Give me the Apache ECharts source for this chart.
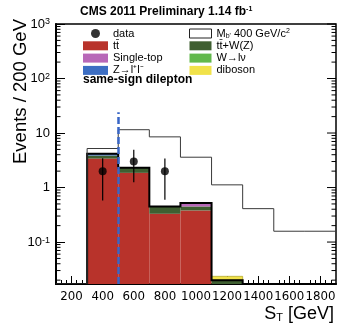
<!DOCTYPE html>
<html>
<head>
<meta charset="utf-8">
<script src="https://cdn.jsdelivr.net/npm/echarts@6/dist/echarts.min.js"></script>
<style>
html,body{margin:0;padding:0;background:#fff;}
#c{width:358px;height:330px;}
</style>
</head>
<body>
<div id="c"></div>
<script>
// ---- data ----
const binLow  = [100, 300, 500, 700, 900, 1100, 1300, 1500, 1700];
const binHigh = [300, 500, 700, 900, 1100, 1300, 1500, 1700, 1900];
const ttbar     = [0, 3.4, 1.86, 0.33, 0.38, 0, 0, 0, 0];
const ttV       = [0, 0.47, 0.44, 0.12, 0.07, 0.02, 0, 0, 0];
const wlnu      = [0, 0, 0, 0, 0, 0, 0, 0, 0];
const singleTop = [0, 0, 0, 0, 0.07, 0, 0, 0, 0];
const zll       = [0, 0.28, 0, 0, 0, 0, 0, 0, 0];
const diboson   = [0, 0, 0, 0, 0, 0.0035, 0, 0, 0];
const signal    = [0, 5.2, 11.5, 8.5, 3.6, 1.12, 0.41, 0.158, 0.158];
const dataX     = [400, 600, 800];
const dataY     = [2, 3, 2];
const dataLo    = [0.58, 1.25, 0.6];
const dataHi    = [3.45, 4.95, 3.4];
const cutX = 500, cutTop = 24;
const xTickLabels = [200, 400, 600, 800, 1000, 1200, 1400, 1600, 1800];
const yDecades = [0.1, 1, 10, 100, 1000];
const minorMult = [2, 3, 4, 5, 6, 7, 8, 9];
const xMin = 100, xMax = 1900, yMin = 0.017, yMax = 1000;

const FONT = '"Liberation Sans", Arial, Helvetica, sans-serif';

const comps = [
  {name: 'tt\u0304', vals: ttbar, color: '#b8332b'},
  {name: 'tt\u0304+W(Z)', vals: ttV, color: '#3f5f31'},
  {name: 'W\u2192l\u03bd', vals: wlnu, color: '#62b84c'},
  {name: 'Single-top', vals: singleTop, color: '#b868b8'},
  {name: 'Z\u2192l\u207al\u207b', vals: zll, color: '#3c6ec3'},
  {name: 'diboson', vals: diboson, color: '#f1e24a'}
];
const sigName = "Mb' 400 GeV/c\u00b2";

const series = [];
comps.forEach(function (c, ci) {
  const items = [];
  for (let i = 0; i < binLow.length; i++) {
    let base = 0;
    for (let j = 0; j < ci; j++) base += comps[j].vals[i];
    items.push([binLow[i], binHigh[i], base, base + c.vals[i]]);
  }
  series.push({
    type: 'custom', name: c.name, clip: true,
    itemStyle: {color: c.color},
    encode: {x: [0, 1], y: [3]},
    data: items,
    renderItem: function (params, api) {
      const x0 = api.value(0), x1 = api.value(1), b = api.value(2), t = api.value(3);
      if (!(t > b) || t <= yMin) return null;
      const p0 = api.coord([x0, Math.max(b, yMin)]);
      const p1 = api.coord([x1, t]);
      return {type: 'rect', shape: {x: p0[0], y: p1[1], width: p1[0] - p0[0], height: p0[1] - p1[1]},
        style: {fill: c.color, stroke: ci === comps.length - 1 ? '#b5a830' : null, lineWidth: 0.8}};
    }
  });
});

function stepPoints(api, vals) {
  const pts = [];
  let prev = yMin;
  for (let i = 0; i < binLow.length; i++) {
    const v = vals[i] > yMin ? vals[i] : yMin;
    pts.push(api.coord([binLow[i], prev]));
    pts.push(api.coord([binLow[i], v]));
    prev = v;
  }
  pts.push(api.coord([binHigh[binHigh.length - 1], prev]));
  return pts;
}

// outline of stack (without diboson)
const outlineVals = binLow.map(function (_, i) {
  let s = 0;
  for (let j = 0; j < comps.length - 1; j++) s += comps[j].vals[i];
  return s;
});
series.push({
  type: 'custom', name: 'outline', clip: true, silent: true,
  data: [[xMin, yMin]],
  renderItem: function (params, api) {
    const pts = stepPoints(api, outlineVals);
    return {type: 'polyline', shape: {points: pts}, style: {stroke: '#000', lineWidth: 2, fill: null}};
  }
});

// signal
series.push({
  type: 'custom', name: sigName, clip: true,
  itemStyle: {color: '#fff', borderColor: '#333'},
  data: [[xMin, yMin]],
  renderItem: function (params, api) {
    const pts = stepPoints(api, signal);
    return {type: 'polyline', shape: {points: pts}, style: {stroke: '#3a3a3a', lineWidth: 1, fill: null}};
  }
});

// y minor / right ticks
const minorVals = [];
for (let k = -2; k <= 2; k++) {
  minorMult.forEach(function (m) {
    const v = m * Math.pow(10, k);
    if (v >= yMin && v <= yMax) minorVals.push(v);
  });
}
series.push({
  type: 'custom', name: 'yticks', silent: true,
  data: minorVals.map(function (v) { return [xMin, v, 0]; }).concat(yDecades.map(function (v) { return [xMin, v, 1]; })),
  renderItem: function (params, api) {
    const v = api.value(1), major = api.value(2) === 1;
    const pl = api.coord([xMin, v]);
    const pr = api.coord([xMax, v]);
    const len = major ? 9 : 4.5;
    const children = [
      {type: 'line', shape: {x1: pr[0], y1: pr[1], x2: pr[0] - len, y2: pr[1]}, style: {stroke: '#000', lineWidth: 1}}
    ];
    if (!major) children.push({type: 'line', shape: {x1: pl[0], y1: pl[1], x2: pl[0] + len, y2: pl[1]}, style: {stroke: '#000', lineWidth: 1}});
    return {type: 'group', children: children};
  }
});

// error bars
series.push({
  type: 'custom', name: 'err', silent: true,
  data: dataX.map(function (x, i) { return [x, dataLo[i], dataHi[i]]; }),
  renderItem: function (params, api) {
    const a = api.coord([api.value(0), api.value(1)]);
    const b = api.coord([api.value(0), api.value(2)]);
    return {type: 'line', shape: {x1: a[0], y1: a[1], x2: b[0], y2: b[1]}, style: {stroke: '#000', lineWidth: 1.2}};
  }
});

// data points + cut line
series.push({
  type: 'scatter', name: 'data', symbol: 'circle', symbolSize: 8,
  itemStyle: {color: '#000'},
  data: dataX.map(function (x, i) { return [x, dataY[i]]; }),
  markLine: {
    silent: true, symbol: 'none', label: {show: false},
    lineStyle: {color: '#3866c6', width: 2.5, type: [7, 3]},
    data: [[{coord: [cutX, yMin]}, {coord: [cutX, cutTop]}]]
  }
});

const legendText = {
  fontFamily: FONT, fontSize: 11, color: '#000', lineHeight: 12,
  rich: {
    n: {fontFamily: FONT, fontSize: 11, color: '#000', lineHeight: 12},
    sb: {fontFamily: FONT, fontSize: 7, color: '#000', verticalAlign: 'bottom', lineHeight: 12},
    sp: {fontFamily: FONT, fontSize: 7, color: '#000', verticalAlign: 'top', lineHeight: 12}
  }
};
const legendFmt = function (name) {
  if (name === sigName) return "{n|M}{sb|b'}{n| 400 GeV/c}{sp|2}";
  return name;
};

const option = {
  animation: false,
  backgroundColor: '#fff',
  title: [
    {text: 'CMS 2011 Preliminary 1.14 fb{s|-1}', left: 75, top: 1,
      textStyle: {fontFamily: FONT, fontSize: 12, fontWeight: 'bold', color: '#000',
        rich: {s: {fontFamily: FONT, fontSize: 7, fontWeight: 'bold', color: '#000', verticalAlign: 'top'}}}},
    {text: 'same-sign dilepton', left: 78, top: 69,
      textStyle: {fontFamily: FONT, fontSize: 12, fontWeight: 'bold', color: '#000'}}
  ],
  legend: [
    {orient: 'vertical', left: 78, top: 22.5, itemWidth: 25, itemHeight: 9, itemGap: 0.3,
      selectedMode: false, icon: 'rect', textStyle: legendText, formatter: legendFmt,
      data: [{name: 'data', icon: 'circle'}, comps[0].name, comps[3].name, comps[4].name]},
    {orient: 'vertical', left: 184, top: 22.5, itemWidth: 22, itemHeight: 9, itemGap: 0.3,
      selectedMode: false, icon: 'rect', textStyle: legendText, formatter: legendFmt,
      data: [{name: sigName, icon: 'rect', itemStyle: {color: '#fff', borderColor: '#222', borderWidth: 1}},
        comps[1].name, comps[2].name, comps[5].name]}
  ],
  grid: {left: 56, right: 22, top: 24, bottom: 46, show: true, borderColor: '#000', borderWidth: 1.5, backgroundColor: 'transparent'},
  xAxis: {
    type: 'value', min: xMin, max: xMax, interval: 100,
    axisLine: {lineStyle: {color: '#000', width: 2}},
    axisTick: {inside: true, length: 8, lineStyle: {color: '#000'}, customValues: xTickLabels},
    minorTick: {show: true, splitNumber: 3, length: 4, lineStyle: {color: '#000'}},
    splitLine: {show: false},
    axisLabel: {customValues: xTickLabels, color: '#000', fontFamily: '"DejaVu Sans", sans-serif', fontSize: 11.8, margin: 7,
      hideOverlap: false, showMaxLabel: true, showMinLabel: true,
      formatter: function (v) { return String(v); }}
  },
  yAxis: {
    type: 'log', logBase: 10, min: yMin, max: yMax,
    axisLine: {lineStyle: {color: '#000', width: 2}},
    axisTick: {inside: true, length: 9, lineStyle: {color: '#000'}},
    splitLine: {show: false},
    minorTick: {show: false},
    axisLabel: {
      color: '#000', fontFamily: FONT, fontSize: 13, margin: 6,
      formatter: function (v) {
        const e = Math.round(Math.log10(v));
        if (Math.abs(Math.log10(v) - e) > 1e-6) return '';
        if (e === 0) return '1';
        if (e === 1) return '10';
        return '10{s|' + e + '}';
      },
      rich: {s: {fontFamily: FONT, fontSize: 9, color: '#000', verticalAlign: 'top'}}
    }
  },
  graphic: [
    {type: 'text', rotation: Math.PI / 2, x: 21, y: 19, z: 100,
      style: {text: 'Events / 200 GeV', fontFamily: FONT, fontSize: 18.5, fill: '#000', align: 'right', verticalAlign: 'middle'}},
    {type: 'text', x: 334, y: 314, z: 100,
      style: {text: '{a|S}{b|T}{a| [GeV]}', align: 'right', verticalAlign: 'middle', fill: '#000',
        rich: {a: {fontFamily: FONT, fontSize: 18, fill: '#000'}, b: {fontFamily: FONT, fontSize: 11, fill: '#000', verticalAlign: 'bottom'}}}}
  ],
  series: series
};

const chart = echarts.init(document.getElementById('c'), null, {renderer: 'canvas'});
chart.setOption(option);
</script>
</body>
</html>
